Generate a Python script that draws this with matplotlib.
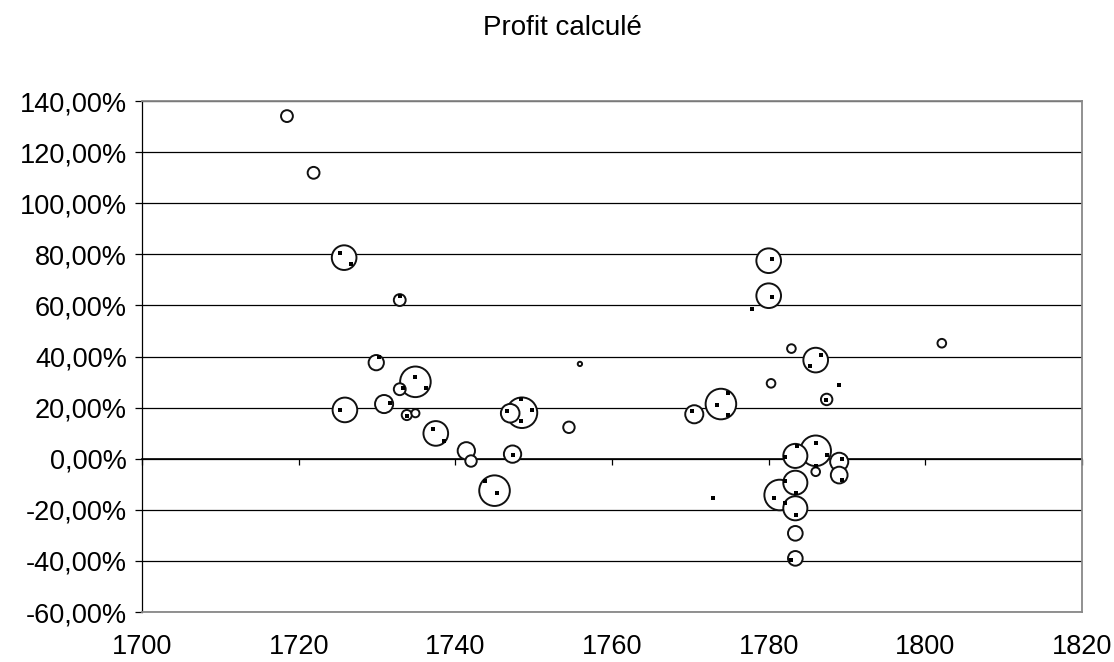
import numpy as np
import matplotlib.pyplot as plt
from matplotlib.ticker import FuncFormatter

# bulles : annee, profit (%), taille relative (aire)
annee = [1718.5, 1721.9, 1725.8, 1732.9, 1729.9, 1734.9, 1732.9, 1725.9, 1730.9,
         1733.8, 1734.9, 1737.5, 1741.4, 1742.0, 1745.0, 1748.5, 1747.0, 1747.3,
         1754.5, 1755.9, 1770.5, 1773.9, 1780.0, 1780.0, 1782.9, 1786.0, 1780.3,
         1787.4, 1786.0, 1783.4, 1789.0, 1789.0, 1786.0, 1781.4, 1783.4, 1783.4,
         1783.4, 1783.4, 1802.1]
profit = [134.1, 111.9, 78.7, 62.1, 37.6, 30.1, 27.2, 19.1, 21.4,
          17.1, 17.8, 9.9, 3.1, -0.9, -12.5, 18.0, 17.8, 1.8,
          12.3, 37.1, 17.4, 21.4, 77.5, 63.8, 43.1, 38.6, 29.5,
          23.2, 3.1, 1.1, -1.2, -6.4, -5.1, -14.2, -9.4, -19.4,
          -29.2, -39.0, 45.2]
taille = [15, 15, 65, 15, 25, 100, 15, 65, 35,
          11, 7, 65, 32, 14, 100, 100, 37, 32,
          14, 2, 35, 100, 65, 65, 8, 65, 8,
          14, 100, 62, 35, 30, 8, 100, 62, 62,
          23, 23, 8]

# petits points
pt_annee = [1725.3, 1726.7, 1732.9, 1730.3, 1734.8, 1736.2, 1733.3, 1725.3, 1731.7,
            1733.8, 1737.2, 1738.6, 1743.8, 1745.3, 1748.4, 1749.8, 1748.4, 1746.6,
            1747.3, 1780.4, 1780.4, 1777.9, 1786.7, 1785.3, 1789.0, 1787.3, 1773.4,
            1774.8, 1774.8, 1770.2, 1786.0, 1787.4, 1786.0, 1783.6, 1782.1, 1789.3,
            1789.3, 1780.7, 1782.1, 1783.5, 1782.1, 1783.5, 1782.9, 1772.9]
pt_profit = [80.4, 76.2, 63.7, 39.7, 31.9, 27.6, 27.6, 19.1, 21.9,
             16.7, 11.5, 7.0, -8.8, -13.3, 23.2, 19.1, 14.6, 18.8,
             1.4, 78.2, 63.2, 58.5, 40.5, 36.2, 29.0, 23.1, 21.1,
             25.6, 17.0, 18.7, 6.0, 1.6, -2.7, 5.0, 0.7, 0.0,
             -8.3, -15.5, -8.7, -13.5, -17.2, -22.0, -39.6, -15.4]

plt.rcParams['font.family'] = ['Liberation Sans', 'DejaVu Sans']

fig = plt.figure(figsize=(11.14, 6.62), dpi=100)
ax = fig.add_axes([0.1275, 0.0755, 0.8438, 0.7719])

xmin, xmax = 1700, 1820
ymin, ymax = -60, 140
ax.set_xlim(xmin, xmax)
ax.set_ylim(ymin, ymax)

ax.set_yticks(np.arange(ymin, ymax + 1, 20))
ax.set_xticks(np.arange(xmin, xmax + 1, 20))
ax.yaxis.set_major_formatter(FuncFormatter(lambda v, p: ('%.2f%%' % v).replace('.', ',')))
ax.set_axisbelow(True)
ax.grid(axis='y', color='black', lw=0.9)
ax.grid(axis='x', visible=False)

ax.tick_params(axis='y', labelsize=19.5, length=5, width=0.9, pad=6, colors='black')
ax.tick_params(axis='x', labelsize=19.5, length=0, pad=16)

ax.spines['left'].set_color('black')
ax.spines['left'].set_linewidth(0.9)
for s in ['top', 'right', 'bottom']:
    ax.spines[s].set_color('#888888')
    ax.spines[s].set_linewidth(1.3)

# axe horizontal qui croise a 0
sec = ax.secondary_xaxis((0 - ymin) / (ymax - ymin))
sec.set_xticks(np.arange(xmin, xmax + 1, 20))
sec.tick_params(axis='x', direction='out', length=4, width=0.9, labelbottom=False, colors='black')
sec.spines['bottom'].set_color('black')
sec.spines['bottom'].set_linewidth(1.2)

# grandes bulles d'abord
order = np.argsort(taille)[::-1]
bx = np.array(annee)[order]
by = np.array(profit)[order]
bs = np.array(taille)[order] * 4.85
ax.scatter(bx, by, s=bs, facecolor='white', edgecolor='#111111', linewidths=1.4, zorder=3)
ax.scatter(pt_annee, pt_profit, s=5.5, marker='s', color='black', linewidths=0, zorder=4)

fig.text(0.5045, 0.958, 'Profit calculé', ha='center', va='center', fontsize=20)

fig.savefig('out.png', dpi=100)
